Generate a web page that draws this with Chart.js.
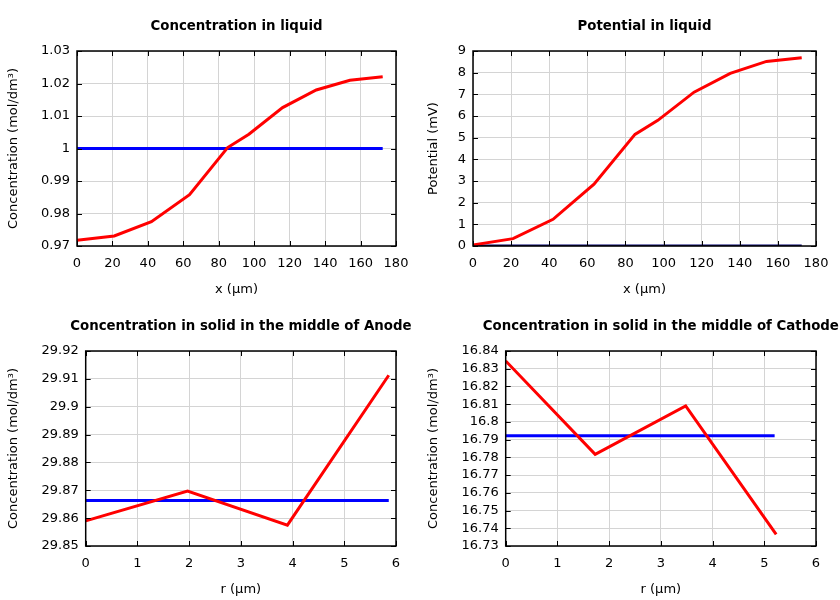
<!DOCTYPE html>
<html>
<head>
<meta charset="utf-8">
<script src="https://cdn.jsdelivr.net/npm/chart.js@4/dist/chart.umd.min.js"></script>
<style>
    body { margin: 0; background: #fff; }
    #wrap { position: relative; width: 840px; height: 600px; }
    canvas { position: absolute; }
</style>
</head>
<body>
<div id="wrap">
    <canvas id="c1" width="420" height="300" style="left:0;top:0"></canvas>
    <canvas id="c2" width="420" height="300" style="left:420px;top:0"></canvas>
    <canvas id="c3" width="420" height="300" style="left:0;top:300px"></canvas>
    <canvas id="c4" width="420" height="300" style="left:420px;top:300px"></canvas>
</div>
<script>
// Liquid phase (x in µm)
const xLiquid = [0, 21, 42, 63.5, 85, 97, 116, 135, 154, 172.5];
const concLiquid = [0.9718, 0.9731, 0.9775, 0.9858, 1.0003, 1.0044, 1.0126, 1.0180, 1.0210, 1.0221];
const concLiquidInit = [1, 1];
const potLiquid = [0.05, 0.34, 1.23, 2.85, 5.15, 5.8, 7.1, 7.97, 8.52, 8.69];
const potLiquidInit = [0, 0];
const xLiquidInit = [0, 172.5];

// Solid phase (r in µm)
const rAnode = [0, 1.97, 3.9, 5.86];
const concAnode = [29.859, 29.8697, 29.8575, 29.9113];
const rAnodeInit = [0, 5.86];
const concAnodeInit = [29.8663, 29.8663];

const rCathode = [0, 1.73, 3.48, 5.23];
const concCathode = [16.8344, 16.7817, 16.809, 16.7366];
const rCathodeInit = [0, 5.2];
const concCathodeInit = [16.7922, 16.7922];

const FONT = 'DejaVu Sans';
Chart.defaults.font.family = FONT;
Chart.defaults.font.size = 13;
Chart.defaults.color = '#000';

const pts = (xs, ys) => xs.map((x, i) => ({ x: x, y: ys[i] }));
const fmt = v => String(parseFloat(v.toFixed(4)));

// frame round the plot + inward tick marks, and the title centred over the plot
const framePlugin = {
    id: 'frame',
    afterDraw(chart, args, opts) {
        const { ctx, chartArea: a, scales } = chart;
        ctx.save();
        ctx.strokeStyle = '#000';
        ctx.lineWidth = 1;
        ctx.beginPath();
        scales.x.ticks.forEach(t => {
            const px = Math.round(scales.x.getPixelForValue(t.value)) + 0.5;
            ctx.moveTo(px, a.bottom); ctx.lineTo(px, a.bottom - 5);
            ctx.moveTo(px, a.top); ctx.lineTo(px, a.top + 5);
        });
        scales.y.ticks.forEach(t => {
            const py = Math.round(scales.y.getPixelForValue(t.value)) + 0.5;
            ctx.moveTo(a.left, py); ctx.lineTo(a.left + 5, py);
            ctx.moveTo(a.right, py); ctx.lineTo(a.right - 5, py);
        });
        ctx.stroke();
        ctx.lineWidth = 1.5;
        ctx.strokeRect(a.left, a.top, a.right - a.left, a.bottom - a.top);

        ctx.fillStyle = '#000';
        ctx.font = 'bold 13.33px "DejaVu Sans"';
        ctx.textAlign = 'center';
        ctx.textBaseline = 'middle';
        ctx.fillText(opts.text, (a.left + a.right) / 2, 27);
        ctx.restore();
    }
};

function makeChart(id, cfg) {
    const line = (data, color) => ({
        data: data, borderColor: color, borderWidth: 3, pointRadius: 0,
        fill: false, tension: 0
    });
    return new Chart(document.getElementById(id), {
        type: 'line',
        data: {
            datasets: [line(cfg.main, '#ff0000'), line(cfg.init, cfg.initColor || '#0000ff')]
        },
        options: {
            responsive: false,
            animation: false,
            layout: { padding: { left: 0, right: 24, top: 51, bottom: 0 } },
            plugins: {
                legend: { display: false },
                tooltip: { enabled: false },
                title: { display: false },
                frame: { text: cfg.title }
            },
            scales: {
                x: {
                    type: 'linear', min: 0, max: cfg.xMax,
                    ticks: { stepSize: cfg.xStep, padding: 10, maxRotation: 0, autoSkip: false },
                    grid: { color: '#d4d4d4', drawTicks: false },
                    border: { display: false },
                    title: { display: true, text: cfg.xTitle, padding: { top: 0, bottom: 3 } },
                    afterFit: s => { s.height = 54; }
                },
                y: {
                    type: 'linear', min: cfg.yMin, max: cfg.yMax,
                    ticks: { stepSize: cfg.yStep, padding: 7, autoSkip: false, callback: fmt },
                    grid: { color: '#d4d4d4', drawTicks: false },
                    border: { display: false },
                    title: { display: true, text: cfg.yTitle, padding: { top: 6, bottom: 0 } },
                    afterFit: s => { s.width = cfg.yWidth; }
                }
            }
        },
        plugins: [framePlugin]
    });
}

makeChart('c1', {
    title: 'Concentration in liquid',
    main: pts(xLiquid, concLiquid), init: pts(xLiquidInit, concLiquidInit),
    xMax: 180, xStep: 20, yMin: 0.97, yMax: 1.03, yStep: 0.01,
    xTitle: 'x (µm)', yTitle: 'Concentration (mol/dm³)', yWidth: 77
});
makeChart('c2', {
    title: 'Potential in liquid',
    main: pts(xLiquid, potLiquid), init: pts(xLiquidInit, potLiquidInit), initColor: '#00006e',
    xMax: 180, xStep: 20, yMin: 0, yMax: 9, yStep: 1,
    xTitle: 'x (µm)', yTitle: 'Potential (mV)', yWidth: 53
});
makeChart('c3', {
    title: 'Concentration in solid in the middle of Anode',
    main: pts(rAnode, concAnode), init: pts(rAnodeInit, concAnodeInit),
    xMax: 6, xStep: 1, yMin: 29.85, yMax: 29.92, yStep: 0.01,
    xTitle: 'r (µm)', yTitle: 'Concentration (mol/dm³)', yWidth: 85.7
});
makeChart('c4', {
    title: 'Concentration in solid in the middle of Cathode',
    main: pts(rCathode, concCathode), init: pts(rCathodeInit, concCathodeInit),
    xMax: 6, xStep: 1, yMin: 16.73, yMax: 16.84, yStep: 0.01,
    xTitle: 'r (µm)', yTitle: 'Concentration (mol/dm³)', yWidth: 85.7
});
</script>
</body>
</html>
